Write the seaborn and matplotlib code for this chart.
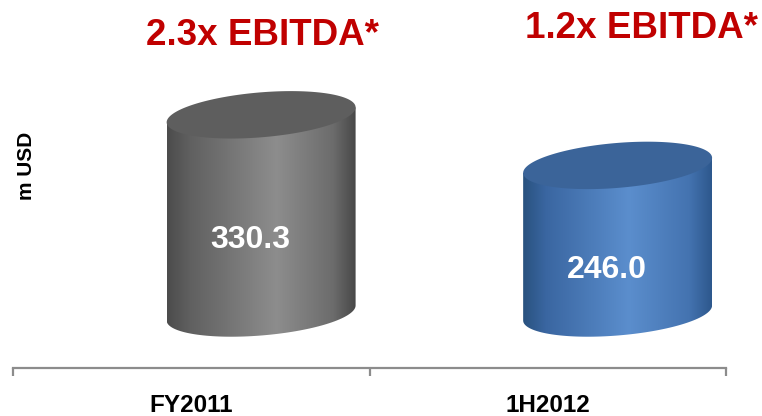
import numpy as np
import pandas as pd
import matplotlib
matplotlib.use("Agg")
import matplotlib.pyplot as plt
import seaborn as sns
from matplotlib.path import Path
from matplotlib.patches import PathPatch
from matplotlib.colors import LinearSegmentedColormap

# ---- data ----
categories = ["FY2011", "1H2012"]
values = [330.3, 246.0]
value_labels = ["330.3", "246.0"]
multiples = ["2.3x EBITDA*", "1.2x EBITDA*"]

# ---- style ----
body_stops = [
    [(0.0, "#4c4c4c"), (0.12, "#606060"), (0.58, "#8d8d8d"), (0.88, "#6c6c6c"), (1.0, "#484848")],
    [(0.0, "#29527f"), (0.12, "#3a66a1"), (0.56, "#5b8ecd"), (0.88, "#4473b0"), (1.0, "#2d588d")],
]
top_colors = ["#5e5e5e", "#3b6499"]
title_color = "#C00000"

sns.set_theme(style="white")
plt.rcParams["font.family"] = ["Liberation Sans", "DejaVu Sans"]

W, H = 762, 416
fig = plt.figure(figsize=(W / 100, H / 100), dpi=100)
ax_left, ax_right = 13, 726
ax_top, ax_bottom = 0, 368
ax = fig.add_axes([ax_left / W, (H - ax_bottom) / H, (ax_right - ax_left) / W, (ax_bottom - ax_top) / H])

df = pd.DataFrame({"category": categories, "value": values})
sns.barplot(data=df, x="category", y="value", ax=ax, width=0.53, color="#777777", saturation=1)

px_per_unit = 0.6
zero_px = 313
ax.set_xlim(-0.5, 1.5)
ax.set_ylim(-(ax_bottom - zero_px) / px_per_unit, zero_px / px_per_unit)

shift = 0.196          # perspective offset of cylinders (category units)
b = 22.5 / px_per_unit  # ellipse half-height (data units)
sh = 7.5 / px_per_unit  # tilt of ellipses (data units at half width)

t_front = np.linspace(np.pi, 2 * np.pi, 80)
t_full = np.linspace(0, 2 * np.pi, 160)

for i, patch in enumerate(ax.patches[:len(values)]):
    x0 = patch.get_x() + shift
    w = patch.get_width()
    v = patch.get_height()
    xc = x0 + w / 2
    a = w / 2
    patch.set_visible(False)

    # body: rectangle + front half of bottom ellipse
    bx = xc + a * np.cos(t_front)
    by = 0 + b * np.sin(t_front) + sh * np.cos(t_front)
    verts = [(x0, v - sh)] + list(zip(bx, by)) + [(x0 + w, v + sh), (x0, v - sh)]
    body = PathPatch(Path(verts), facecolor="none", edgecolor="none")
    ax.add_patch(body)
    cmap = LinearSegmentedColormap.from_list(f"c{i}", body_stops[i])
    grad = np.linspace(0, 1, 256).reshape(1, -1)
    im = ax.imshow(grad, cmap=cmap, extent=(x0, x0 + w, -2 * b, v + 2 * b),
                   aspect="auto", origin="lower", zorder=2, interpolation="bilinear")
    im.set_clip_path(body)

    # top ellipse
    tx = xc + a * np.cos(t_full)
    ty = v + b * np.sin(t_full) + sh * np.cos(t_full)
    top = PathPatch(Path(list(zip(tx, ty))), facecolor=top_colors[i], edgecolor="none", zorder=3)
    ax.add_patch(top)

    # value label
    ax.text(xc - 0.03, 0.6 * v - 90, value_labels[i], ha="center", va="baseline",
            color="white", fontsize=23, fontweight="bold", zorder=5)

# axes styling
ax.set_xlabel("")
ax.set_ylabel("")
ax.set_yticks([])
for s in ["top", "right", "left"]:
    ax.spines[s].set_visible(False)
ax.spines["bottom"].set_color("#8c8c8c")
ax.spines["bottom"].set_linewidth(1.6)
ax.set_xticks([0, 1])
ax.set_xticklabels(categories, fontsize=17.5, fontweight="bold", color="black")
ax.tick_params(axis="x", which="major", length=0, pad=19)
ax.set_xticks([-0.5, 0.5, 1.5], minor=True)
ax.tick_params(axis="x", which="minor", length=6, width=1.6, color="#8c8c8c", direction="out", bottom=True)
ax.set_facecolor("white")
fig.patch.set_facecolor("white")

# y label
fig.text(26 / W, 1 - 166 / H, "m USD", rotation=90, ha="center", va="center",
         fontsize=15, fontweight="bold", color="black")

# EBITDA multiples above each cylinder
fig.text(262 / W, 1 - 45 / H, multiples[0], ha="center", va="baseline",
         fontsize=26.5, fontweight="bold", color=title_color)
fig.text(641 / W, 1 - 38 / H, multiples[1], ha="center", va="baseline",
         fontsize=26.5, fontweight="bold", color=title_color)

fig.savefig("out.png", dpi=100, facecolor="white")
